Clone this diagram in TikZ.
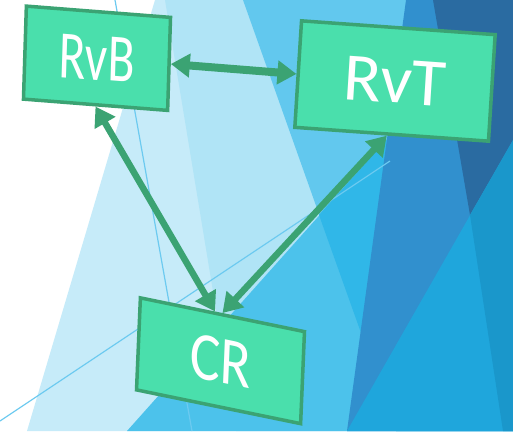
\documentclass[tikz,border=0pt]{standalone}
\usepackage{fontspec}
\usetikzlibrary{arrows.meta}

\newfontfamily\boxfont{Carlito}

\definecolor{paleA}{HTML}{C6EBF9}
\definecolor{paleB}{HTML}{B0E4F6}
\definecolor{skyA}{HTML}{62C8EE}
\definecolor{skyB}{HTML}{4CC2EB}
\definecolor{skyC}{HTML}{30B7E8}
\definecolor{blueA}{HTML}{3190CE}
\definecolor{blueB}{HTML}{1FA6DC}
\definecolor{blueC}{HTML}{1A97CB}
\definecolor{navy}{HTML}{2A6BA1}
\definecolor{thinline}{HTML}{6CCAF0}
\definecolor{boxfill}{HTML}{4ADFAC}
\definecolor{boxline}{HTML}{3BA373}

\tikzset{
  facet/.style={draw=none},
  box/.style={rectangle, draw=boxline, fill=boxfill, line width=3.5pt,
    inner sep=0pt, text=white, font=\boxfont\fontsize{68}{70}\selectfont},
  link/.style={draw=boxline, line width=6.5pt,
    {Triangle[length=19pt,width=23pt]}-{Triangle[length=19pt,width=23pt]}},
}

\begin{document}
\begin{tikzpicture}[x=1pt, y=-1pt]
    \useasboundingbox (0,0) rectangle (513,431);
    % background facets
    \fill[white] (0,0) rectangle (513,431);
    \fill[paleA] (155,0) -- (513,0) -- (513,431) -- (27,431) -- cycle;
    \fill[paleB] (165,0) -- (513,0) -- (513,431) -- (236,431) -- cycle;
    \fill[skyA] (243,0) -- (513,0) -- (513,431) -- (396,431) -- cycle;
    \fill[skyB] (127,431) -- (400,125) -- (513,125) -- (513,431) -- cycle;
    \fill[skyC] (319,215) -- (400,125) -- (513,125) -- (513,431) -- (396,431) -- cycle;
    \fill[blueA] (406,0) -- (513,0) -- (513,431) -- (347,431) -- cycle;
    \fill[blueB] (347,431) -- (513,140) -- (513,431) -- cycle;
    \fill[navy] (433,0) -- (513,0) -- (513,140) -- (470,215) -- cycle;
    \fill[blueC] (470,215) -- (513,140) -- (513,431) -- (503,431) -- cycle;
    \draw[thinline, line width=1.2pt] (115,0) -- (192,431);
    \draw[thinline, line width=1.2pt] (0,421) -- (390,161);

    % boxes
    \node[box, minimum width=144.5pt, minimum height=93pt, xslant=0.031, yslant=-0.078]
        (rvb) at (97,58.25) {\scalebox{0.73}[1]{RvB}};
    \node[box, minimum width=194.5pt, minimum height=106.5pt, xslant=0.063, yslant=-0.071]
        (rvt) at (395,81) {\scalebox{1.03}[1]{RvT}};
    \node[box, minimum width=165.5pt, minimum height=92pt, xslant=0.042, yslant=-0.204]
        (cr) at (220.5,360.75) {\scalebox{0.84}[1]{CR}};

    % links
    \draw[link, line width=8pt] (rvb.east) -- (rvt.west);
    \draw[link] (rvb.south) -- (cr.99);
    \draw[link] (rvt.-95) -- (cr.north);
\end{tikzpicture}
\end{document}
